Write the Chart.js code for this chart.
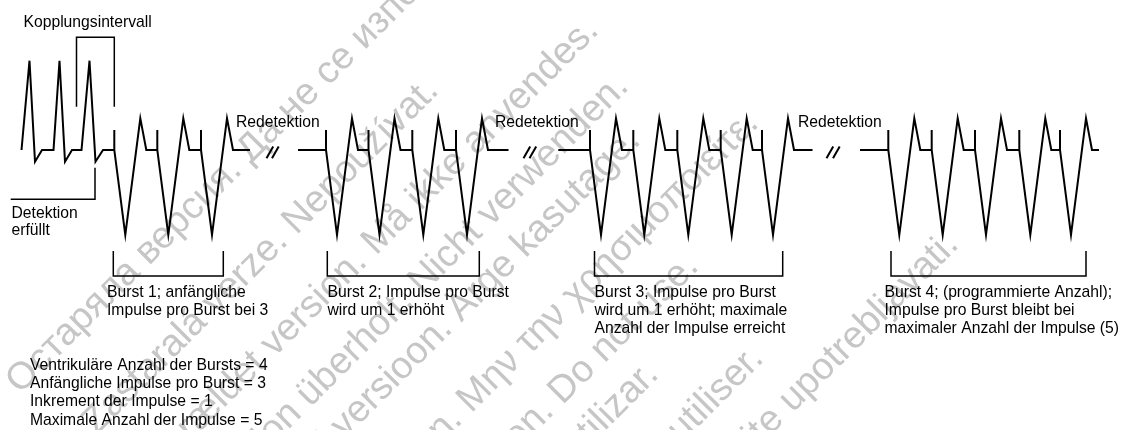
<!DOCTYPE html>
<html>
<head>
<meta charset="utf-8">
<script src="https://cdn.jsdelivr.net/npm/chart.js@4"></script>
<style>
  body { margin: 0; background: #fff; }
  canvas { display: block; }
</style>
</head>
<body>
<canvas id="mycanvas" width="1122" height="430"></canvas>
<script>
// --- data (time runs left->right, amplitude top->bottom) ---
var burstPulses = [3, 4, 5, 5];
var burstSpikes = [
  [114.3, 157.3, 201],
  [326, 368.5, 412.3, 456],
  [590, 633.3, 677.3, 720.7, 762],
  [888.3, 931.7, 975, 1019.3, 1060]
];
var burstLineStart = [114.3, 298, 558.3, 860];
var burstLineEnd = [250, 508.5, 812.5, 1099];

// intrinsic rhythm before detection
var intrinsicX = [21.5, 29.5, 35, 42, 53.5, 59.5, 65, 72, 81.5, 89.5, 95.5, 103, 114.3];
var intrinsicY = [150, 60.7, 161.7, 150, 150, 60.7, 161.7, 150, 150, 60.7, 161.7, 150, 150];

// paced pulse shape: baseline, spike top, trough, peak
var baseLevel = 150, spikeLevel = 130, troughLevel = 235, peakLevel = 118.3;
var troughLag = 11, peakLag = 26, returnLag = 32;

// "//" breaks between bursts (bottom x of each slash)
var breakSlashes = [[266.5, 272], [523.5, 529.5], [826.5, 833]];

// brackets under bursts
var bracketLeft = [113.3, 327.3, 594.5, 891];
var bracketRight = [223.3, 479.3, 782.7, 1086];

var burstTexts = [
  ['Burst 1; anfängliche', 'Impulse pro Burst bei 3'],
  ['Burst 2; Impulse pro Burst', 'wird um 1 erhöht'],
  ['Burst 3; Impulse pro Burst', 'wird um 1 erhöht; maximale', 'Anzahl der Impulse erreicht'],
  ['Burst 4; (programmierte Anzahl);', 'Impulse pro Burst bleibt bei', 'maximaler Anzahl der Impulse (5)']
];
var burstTextX = [107, 327.5, 594.5, 884.5];
var paramTexts = [
  'Ventrikuläre Anzahl der Bursts = 4',
  'Anfängliche Impulse pro Burst = 3',
  'Inkrement der Impulse = 1',
  'Maximale Anzahl der Impulse = 5'
];
var redetectX = [236, 495, 798];

var watermarkLines = [
  ['Остаряла версия. Да не се използва.', 485, -70],
  ['Zastaralá verze. Nepoužívat.', 440, 92],
  ['Forældet version. Må ikke anvendes.', 600, 32],
  ['Version überholt. Nicht verwenden.', 630, 88],
  ['Aegunud versioon. Ärge kasutage.', 642, 142],
  ['Παλιά έκδοση. Μην την χρησιμοποιείτε.', 760, 125],
  ['Outdated version. Do not use.', 700, 268],
  ['Versión obsoleta. No utilizar.', 660, 376],
  ['Version obsolète. Ne pas utiliser.', 765, 360],
  ['Zastarjela verzija. Nemojte upotrebljavati.', 960, 246]
];

// --- build datasets ---
function line(points, width) {
  return {
    data: points,
    showLine: true,
    borderColor: '#000',
    borderWidth: width,
    pointRadius: 0,
    fill: false,
    clip: false,
    borderJoinStyle: 'miter'
  };
}

var datasets = [];

var ecg = [];
for (var i = 0; i < intrinsicX.length; i++) {
  ecg.push({ x: intrinsicX[i], y: intrinsicY[i] });
}

for (var b = 0; b < burstSpikes.length; b++) {
  var pts = b === 0 ? ecg : [{ x: burstLineStart[b], y: baseLevel }];
  var spikes = burstSpikes[b].slice(0, burstPulses[b]);
  for (var s = 0; s < spikes.length; s++) {
    var sx = spikes[s];
    pts.push({ x: sx, y: baseLevel });
    pts.push({ x: sx, y: spikeLevel });
    pts.push({ x: sx, y: baseLevel });
    pts.push({ x: sx + troughLag, y: troughLevel });
    pts.push({ x: sx + peakLag, y: peakLevel });
    pts.push({ x: sx + returnLag, y: baseLevel });
  }
  pts.push({ x: burstLineEnd[b], y: baseLevel });
  if (b > 0) datasets.push(line(pts, 2));
}
datasets.unshift(line(ecg, 2));

breakSlashes.forEach(function(pair) {
  pair.forEach(function(x0) {
    datasets.push(line([{ x: x0, y: 158.3 }, { x: x0 + 6.7, y: 146.5 }], 2));
  });
});

for (var k = 0; k < bracketLeft.length; k++) {
  datasets.push(line([
    { x: bracketLeft[k], y: 251 }, { x: bracketLeft[k], y: 276 },
    { x: bracketRight[k], y: 276 }, { x: bracketRight[k], y: 251 }
  ], 1.5));
}

// coupling interval and detection markers
datasets.push(line([{ x: 76.5, y: 106.7 }, { x: 76.5, y: 37.3 }, { x: 114.3, y: 37.3 }, { x: 114.3, y: 106.7 }], 1.5));
datasets.push(line([{ x: 10.7, y: 199.3 }, { x: 95, y: 199.3 }, { x: 95, y: 167.7 }], 1.5));

var FONT = '"Liberation Sans", Arial, sans-serif';

var watermark = {
  id: 'watermark',
  beforeDatasetsDraw: function(chart) {
    var c = chart.ctx, xs = chart.scales.x, ys = chart.scales.y;
    c.save();
    c.font = '38px ' + FONT;
    c.fillStyle = '#c6c6c6';
    c.textAlign = 'right';
    c.textBaseline = 'alphabetic';
    watermarkLines.forEach(function(w) {
      c.save();
      c.translate(xs.getPixelForValue(w[1]), ys.getPixelForValue(w[2]));
      c.rotate(-Math.PI / 4);
      c.fillText(w[0], 0, 0);
      c.restore();
    });
    c.restore();
  }
};

var labels = {
  id: 'labels',
  afterDatasetsDraw: function(chart) {
    var c = chart.ctx, xs = chart.scales.x, ys = chart.scales.y;
    function put(t, x, y) {
      c.fillText(t, xs.getPixelForValue(x), ys.getPixelForValue(y));
    }
    c.save();
    c.font = '15.7px ' + FONT;
    c.fillStyle = '#000';
    c.textAlign = 'left';
    c.textBaseline = 'middle';
    put('Kopplungsintervall', 23.5, 22.7);
    put('Detektion', 11.5, 213.3);
    put('erfüllt', 11.5, 230.5);
    redetectX.forEach(function(x) { put('Redetektion', x, 123); });
    burstTexts.forEach(function(lines, i) {
      lines.forEach(function(t, j) { put(t, burstTextX[i], 292.3 + j * 18.4); });
    });
    paramTexts.forEach(function(t, j) { put(t, 30, 365.7 + j * 18.2); });
    c.restore();
  }
};

new Chart(document.getElementById('mycanvas'), {
  type: 'scatter',
  data: { datasets: datasets },
  options: {
    responsive: false,
    animation: false,
    events: [],
    layout: { padding: 0 },
    plugins: { legend: { display: false }, tooltip: { enabled: false } },
    scales: {
      x: { type: 'linear', display: false, min: 0, max: 1122 },
      y: { type: 'linear', display: false, min: 0, max: 430, reverse: true }
    }
  },
  plugins: [watermark, labels]
});
</script>
</body>
</html>
